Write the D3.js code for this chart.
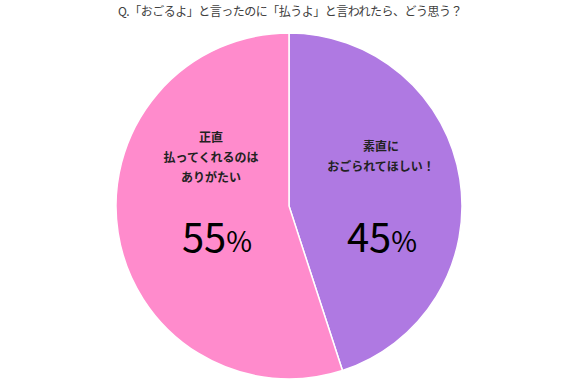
<!DOCTYPE html>
<html>
<head>
<meta charset="utf-8">
<script src="https://cdn.jsdelivr.net/npm/d3@7"></script>
<style>
body { margin: 0; background: #fff; }
text { font-family: "Noto Sans CJK JP", "Noto Sans", sans-serif; }
</style>
</head>
<body>
<div id="chart"></div>
<script>
var titleText = "Q.「おごるよ」と言ったのに「払うよ」と言われたら、どう思う？";
var labels = [["素直に", "おごられてほしい！"], ["正直", "払ってくれるのは", "ありがたい"]];
var values = [45, 55];
var colors = ["#af79e2", "#ff8bcc"];

var w = 577, h = 389;
var cx = 289, cy = 206, r = 173;

var svg = d3.select("#chart").append("svg")
	.attr("width", w)
	.attr("height", h);

svg.append("text")
	.attr("x", 290)
	.attr("y", 16)
	.attr("text-anchor", "middle")
	.attr("font-size", 12)
	.attr("letter-spacing", -0.5)
	.attr("fill", "#404040")
	.text(titleText);

var pie = d3.pie().sort(null).value(d => d);
var arc = d3.arc().innerRadius(0).outerRadius(r);
var arcs = pie(values);

var g = svg.append("g").attr("transform", "translate(" + cx + "," + cy + ")");

g.selectAll("path")
	.data(arcs)
	.enter()
	.append("path")
	.attr("d", arc)
	.attr("fill", (d, i) => colors[i])
	.attr("stroke", "#fff")
	.attr("stroke-width", 1.5);

// label positions relative to center
var labelPos = [[92, -55], [-78, -64]];
var pctPos = [[93, 46], [-72, 46]];

arcs.forEach(function(d, i) {
	var lines = labels[i];
	var t = g.append("text")
		.attr("text-anchor", "middle")
		.attr("font-size", 12)
		.attr("font-weight", "bold")
		.attr("fill", "#222");
	lines.forEach(function(l, j) {
		t.append("tspan")
			.attr("x", labelPos[i][0])
			.attr("y", labelPos[i][1] + j * 20)
			.text(l);
	});
	var p = g.append("text")
		.attr("x", pctPos[i][0])
		.attr("y", pctPos[i][1])
		.attr("text-anchor", "middle")
		.attr("fill", "#000");
	p.append("tspan").attr("font-size", 40).text(values[i]);
	p.append("tspan").attr("font-size", 28).text("%");
});
</script>
</body>
</html>
